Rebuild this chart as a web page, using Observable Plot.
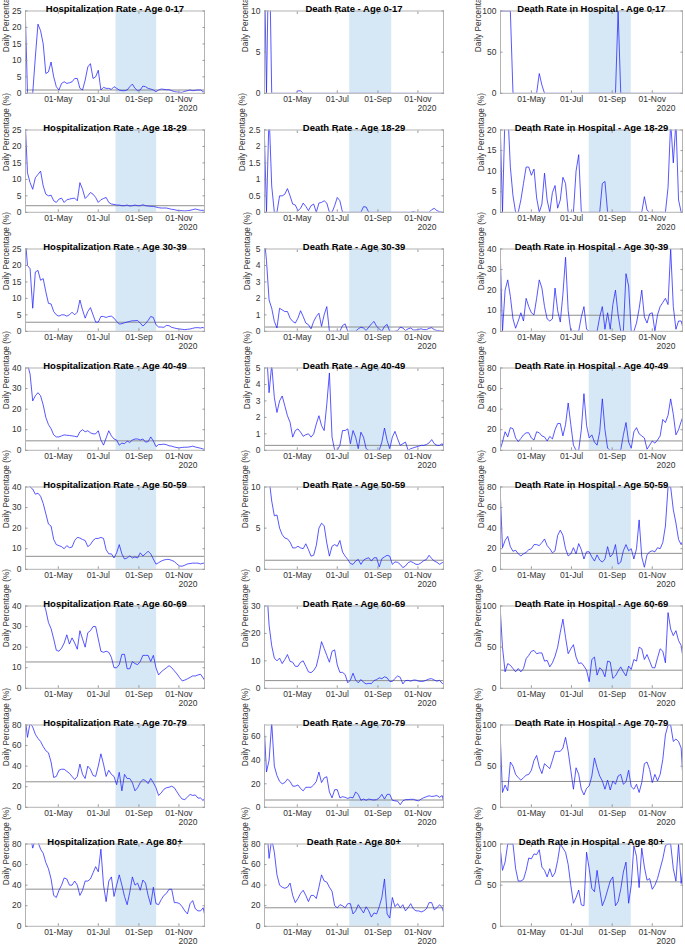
<!DOCTYPE html>
<html><head><meta charset="utf-8">
<script src="https://cdn.jsdelivr.net/npm/d3@7"></script>
<script src="https://cdn.jsdelivr.net/npm/@observablehq/plot@0.6"></script>
<style>
body{margin:0;background:#fff;}
#root{position:relative;width:685px;height:947px;overflow:hidden;font-family:"Liberation Sans",Arial,sans-serif;}
#root svg{position:absolute;overflow:visible;}
</style></head><body><div id="root"></div>
<script>
// ---- categories / labels ----
const ageGroups = ["0-17","18-29","30-39","40-49","50-59","60-69","70-79","80+"];
const measures = ["Hospitalization Rate","Death Rate","Death Rate in Hospital"];
const yLabel = "Daily Percentage (%)";
const yearLabel = "2020";
const xTickDates = ["2020-05-01","2020-07-01","2020-09-01","2020-11-01"];
const shadeDates = [["2020-07-28","2020-09-28"],["2020-07-20","2020-09-22"],["2020-07-28","2020-09-30"]];
const stepDays = 4;                       // sampling step of the series below
const seriesStart = ["2020-03-11","2020-03-11","2020-03-10"];   // first sample per column
const xDomains = [["2020-03-12","2020-12-10"],["2020-03-12","2020-12-10"],["2020-03-15","2020-12-17"]];

// ---- Hospitalization Rate (column 1) ----
const hosp_0_17 = [30,0,0,0,11,21,19,15,6,6.5, 9.5,5,2,1,3,3.5,3,3.2,3.5,4.5, 4.5,1.5,1,4,8,9,4.5,5,7,1, 1.8,1.5,1.5,1.2,2,1.5,1,0.8,0.8,1, 2,2.8,1.5,0.8,1,2.2,2,1.5,1.3,1, 0.5,1,1.3,1.2,1.1,1.1,0.8,0.5,0.4,0.3, 0.3,0.6,0.8,1,0.8,0.9,1,1,0.5,0.2];
const hosp_18_29 = [30,12,9,7,10.5,11.5,12.5,8,5.5,5, 5.2,3.5,3,4,4.3,3,3.8,4,4.2,4.3, 3.5,9,7,4.2,5,6,5.5,4.5,3,3.8, 4.2,4.5,3,2.5,2.4,2.2,2.2,2,2,2.2, 1.9,2,2.2,2,2,2.3,2,1.9,1.8,1.8, 1.6,1.4,1.3,1.3,1.3,1.1,0.9,0.8,0.6,0.5, 0.5,0.4,0.5,0.6,0.8,1.0,0.8,0.6,0.6,0.5];
const hosp_30_39 = [30,20,19,7,18,18.5,15.5,16,12,8.5, 8.3,6,5,4.6,5,5,4.6,5,5.8,5, 5.8,9.5,6.5,4,6,7.2,5,2.8,2.8,4.5, 4.5,4.2,4.5,4.6,4,3,2.2,2.3,2.6,2.8, 3,3.2,3.2,3.3,2.5,1.6,2.3,3.3,4.5,4.2, 2,1.3,1.3,1.2,1.8,1.7,1.2,1,0.8,0.7, 0.6,0.5,0.6,0.7,0.9,1.1,1.1,1,1.2,0.3];
const hosp_40_49 = [45,42,37,24,26.5,28,26.5,22,16,12.5, 10.5,7.5,6.5,6.5,7,7.5,7.3,7.2,7,6.8, 6.5,9,10,9,9.5,8.5,8,8,9.5,5, 2.5,6,9.5,7,5.5,5,2.5,3.5,3.2,4.5, 3.8,5,5.5,5.5,5,5.5,4,4.2,6.5,4.5, 1.8,2.8,2.8,3,2.7,2.2,2,1.6,1.3,1.2, 1.4,1.5,1.5,1.7,2,1.6,1.3,1,0.6,0.3];
const hosp_50_59 = [45,42,40,39,36.5,37,35.5,32,27,22, 21,14.5,12,11.5,11,10,11.5,10.5,10.8,14, 15.5,15.2,14.5,14,11,12,14,15,15,15.5, 15,9.5,7.5,7.5,5.5,8,12,7.5,5,5.5, 6.5,5.5,6,5.5,8,6.5,7.5,8.8,7.5,5, 2.5,3.2,4,4.5,4.8,4.8,4.3,3.8,2.5,1.6, 1.5,2,2.6,2.8,3,3,3,2.6,3,2.5];
const hosp_60_69 = [60,55,55,50,50,48,45,42,38,32, 29,24,18.5,18,19.5,22,26,21.5,24.5,22, 19,28,24,20,27,28,30,30,24,18, 17.5,18,17.5,15,10,10,11.5,16.5,16.5,9.5, 9.5,13,12,11.5,13,16,16,16,13,16, 10,6.5,8,9,10,11,10,8.5,7,5.2, 3.6,4,4.6,5.3,6,6,6.5,6.8,5,3];
const hosp_70_79 = [90,68,82,78,71,67,64,59,55,53, 44,29,30,36,37,37,35,33,30,27, 30,42,32,28,40,37,31,30,40,52, 42,30,36,32,30,22,34,16,32,28, 28,24,16,19,24,27,26,23,28,24, 19,11.5,14,17.5,19,19.5,20.5,19,15,11, 8,7.5,10,12.5,11.5,12,9,9,6.5,11];
const hosp_80p = [95,95,90,76,85,82,75,71,62,56, 46,30,28,35,40,47,46,40,40,44, 40,30,35,44,44,46,52,58,53,75, 40,24,44,48,29,40,50,40,29,21, 33,48,40,42,35,45,42,30,21,38, 22,21,26,30,32,36,36,23,23,22, 19,15,12,22,25,17,15,15,18,6];

// ---- Death Rate (column 2) ----
const death_0_17 = [20,0,20,0,0,0,0,0,0,0, 0,0,0,0.3,0.3,0,0,0,0,0, 0,0,0,0,0,0,0,0,0,0, 0,0,0,0,0,0,0,0,0,0, 0,0,0,0,0,0,0,0,0,0, 0,0,0,0,0,0,0,0,0,0, 0,0,0,0,0,0,0,0,0,0];
const death_18_29 = [3,0,3,0.8,0,0,0.5,0.5,0.55,0.72, 0.5,0.25,0.22,0.05,0.12,0.28,0.18,0.05,0.2,0.25, 0,0.28,0.3,0.35,0.28,0,0,0.2,0.45,0.35, 0,0,0,0,0,0,0,0,0.17,0.16, 0,0,0,0,0,0,0,0,0,0, 0,0,0,0,0,0,0,0.02,0,0, 0,0,0,0,0.08,0.12,0.05,0.02,0,0];
const death_30_39 = [6,4.3,1.9,1.4,0.6,0.2,1.4,1.3,1.2,1.2, 0.8,0.6,0.5,0.8,1.25,0.9,0.5,0.4,0.15,0.6, 0.9,1.1,0.3,1.0,1.5,0,0,0,0,0, 0.35,0.45,0,0,0,0,0.15,0.25,0.2,0.05, 0.25,0.45,0.6,0.3,0.15,0,0.3,0.42,0,0, 0,0.05,0.25,0.2,0.05,0.15,0.2,0.08,0.08,0.12, 0.15,0.1,0.1,0.18,0.22,0.1,0.05,0.05,0,0];
const death_40_49 = [6,6,3.5,5.2,3.2,2.3,3,3.3,2.7,2.1, 1.7,0.8,1.2,1.3,1.1,0.85,0.95,1.0,0.8,1.0, 1.6,2.1,1.5,1.2,2.8,4.7,0.8,0,0,0.3, 1.2,1.2,1.3,0.4,1.2,0.8,0.1,1.1,0.8,0.1, 0,0,0,0,0,0.5,1.35,0.6,0.1,0.8, 1.15,0.7,0.3,0.4,0.5,0,0.1,0.15,0.2,0.25, 0.3,0.3,0.35,0.45,0.65,0.4,0.3,0.3,0.4,0.05];
const death_50_59 = [14,12,11,8.3,6.5,6.6,5,4.2,3.8,3.7, 3.3,2.6,2.6,2.8,2.6,2.5,3.1,2.4,1.6,1.7, 2.9,5,5.6,5.3,3.2,1.6,2.8,3,2.8,3.5, 2.1,1.6,1.2,0.7,0.6,1,1.2,0.6,1.1,1.3, 1.4,1,1.4,1.4,0.3,1.3,1.5,1.7,1.6,0.6, 0.9,0.85,0.6,0.2,0.4,0.8,0.95,0.8,0.6,0.6, 0.8,1.05,1.2,1.7,1.3,1.0,0.85,0.6,0.8,0.9];
const death_60_69 = [45,38,23,15.5,11,10,11,9,10.5,12.3, 9.8,9.5,8,8,9.5,10,8,6,5.7,6.5, 8,12,17,14.5,12,9.5,13.5,14,8.5,5.8, 5.8,5,2,3,5.5,3,2,3.2,2.2,1.6, 1.8,1.7,2.8,3.2,3.8,3.5,4.2,3.8,2.5,2.5, 3.6,4.5,4,1.6,2.8,2.9,2.6,3,3,2.6, 2.5,2.6,3,3.4,3.5,3,2.6,2.9,1.8,1.5];
const death_70_79 = [75,30,40,72,35,27,22,20,21,24, 22,18,18,19,16,14,17,17,17,19, 22,30,21,25,26,13,8,15,15,8, 9,8.5,7.5,8.5,8,13,11,6,7,6, 7,6.5,6.2,6.5,8,11,7,11,11,6, 5.5,5.2,2.2,5.5,6.5,6.5,6.8,6.8,6,5.5, 7,8.2,9,9.8,9.2,9.5,10,8.5,10,1];
const death_80p = [110,100,66,85,72,50,40,38,37,38, 42,30,23,27,32,35,30,24,30,30, 27,38,50,44,43,38,34,20,18,21, 20,18,22,22,12,15,21,17,13,19, 15,9,13,12,19,28,46,12,8,28, 19,22,18,21,15,18,22,17,15,15, 14,15,17,23,23,16,18,21,18,10];

// ---- Death Rate in Hospital (column 3) ----
const hospDeath_0_17 = [100,100,100,100,100,100,0,0,0,0, 0,0,0,0,0,0,24,10,0,0, 0,0,0,0,0,0,0,0,0,0, 0,0,0,0,0,0,0,0,0,0, 0,0,0,0,0,0,100,0,0,0, 0,0,0,0,0,0,0,0,0,0, 0,0,0,0,0,0,0,0,0,0, 0,0];
const hospDeath_18_29 = [25,25,0,25,25,11,4,0,0,3, 7,11,11,9,10.5,3.5,0,2,9.5,3, 0,4.8,6.5,1,3,8.5,7,0,0,0, 10,14,0,0,0,0,0,0,0,0, 7,7.5,0,0,0,0,0,0,0,0, 0,0,0,0,0,0,3.8,0.5,0,0, 0,0,0,0,0,6,22,12,22,3, 0,0];
const hospDeath_30_39 = [45,45,0,20,25,17,6,1.5,5,9, 5,16,12,9,8,16,25,21,12,6, 5,6,21,10,4.5,18,36,10,0,0, 0,0,7,12,1,0,0,0,0,7, 12,1,9,1,13,20,8,0,0,28, 22,0,0,4,11,20,7,4,8.5,9, 0,8,12,14,16,13,40,12,1,5, 5,0];
const hospDeath_40_49 = [0,0,8,18,13,22,21,12,8.5,11.5, 15,17,17,12,10,18,17,14,13,9, 13.5,11,20,26,26,14,25,46,25,5, 0,0,20,55,24,12,15,8,5,18, 50,20,2,0,0,0,0,0,15,27, 8,2,18,22,16,14,12,1,5,9, 7,10,14,30,27,34,50,35,15,20, 28,35];
const hospDeath_50_59 = [90,85,21,28,32,22,17.5,18.5,15,13, 15,16.5,19,20,24,24,23,26,29.5,23, 20,16,18,33,38,33,20,13,15,21, 15,25,19,10,17,17,12,8,14,9, 7,10,22,12,15,24,5,7,18,24, 18,20,10,20,48,12,2,14,17,18, 17,21,20,26,42,80,80,58,45,29, 24,30];
const hospDeath_60_69 = [105,105,50,20,30,28,24,20,24,20, 24,36,40,45,46,42,43,43,33,34, 26,31,39,50,68,84,62,42,48,53, 38,30,31,27,22,8,35,38,16,25, 22,14,33,32,12,15,21,26,20,15, 27,23,35,33,50,48,35,41,33,25, 25,37,48,45,31,92,72,64,70,58, 52,30];
const hospDeath_70_79 = [100,100,18,27,20,55,50,40,36,33, 36,39,40,45,57,63,49,41,53,50, 47,57,68,68,68,72,85,68,45,22, 48,40,22,15,23,26,38,60,48,38, 32,22,33,21,32,28,38,40,28,31, 45,25,22,28,18,30,53,55,46,30, 40,32,40,58,88,100,100,80,83,80, 72,15];
const hospDeath_80p = [100,100,68,78,100,100,100,70,55,55, 57,68,83,82,88,87,93,72,68,60, 70,60,65,80,100,95,90,75,50,28, 35,44,26,25,90,70,46,42,68,45, 25,33,44,55,60,25,30,45,66,78, 28,50,98,85,47,95,72,56,58,45, 50,58,70,82,98,100,100,70,55,100, 52,80];

// ---- reference (mean) lines per age group ----
const hospMean = [1.0, 2.0, 2.75, 4.6, 6.3, 12.8, 24.8, 36.1];
const deathMean = [null, null, 0.26, 0.3, 1.1, 2.8, 6.2, 18];
const hospDeathMean = [null, null, 7.8, 9.1, 15.5, 22, 31.4, 54];

// ---- y axis extents and ticks: [hosp, death, hospDeath] per age group ----
const yMax = [[25,10,100],[25,2.5,20],[25,5,40],[40,5,80],[40,10,80],[40,30,100],[80,70,100],[80,80,100]];
const yTicks = [
  [[0,5,10,15,20,25],[0,5,10],[0,50,100]],
  [[0,5,10,15,20,25],[0,0.5,1,1.5,2,2.5],[0,5,10,15,20]],
  [[0,5,10,15,20,25],[0,1,2,3,4,5],[0,10,20,30,40]],
  [[0,10,20,30,40],[0,1,2,3,4,5],[0,20,40,60,80]],
  [[0,10,20,30,40],[0,5,10],[0,20,40,60,80]],
  [[0,10,20,30,40],[0,10,20,30],[0,50,100]],
  [[0,20,40,60,80],[0,20,40,60],[0,50,100]],
  [[0,20,40,60,80],[0,20,40,60,80],[0,50,100]]
];

const series = [
  [hosp_0_17,hosp_18_29,hosp_30_39,hosp_40_49,hosp_50_59,hosp_60_69,hosp_70_79,hosp_80p],
  [death_0_17,death_18_29,death_30_39,death_40_49,death_50_59,death_60_69,death_70_79,death_80p],
  [hospDeath_0_17,hospDeath_18_29,hospDeath_30_39,hospDeath_40_49,hospDeath_50_59,hospDeath_60_69,hospDeath_70_79,hospDeath_80p]
];
const means = [hospMean, deathMean, hospDeathMean];

// ---- layout ----
const colL = [25, 264.3, 500], colR = [204, 443.3, 682];
const rowTop0 = 10.5, rowStep = 119, axH = 82.3;
const ml = 32, mr = 4, mt = 10.5, mb = 24;
const FONT = '"Liberation Sans", Arial, Helvetica, sans-serif';
const DAY = 864e5;
const parse = s => new Date(s + "T00:00:00Z");
const fmt = d3.utcFormat("%d-%b");
const xTicks = xTickDates.map(parse);
const root = document.getElementById("root");

for (let r = 0; r < 8; r++) {
  for (let c = 0; c < 3; c++) {
    const vals = series[c][r];
    const t0 = parse(seriesStart[c]).getTime();
    const data = vals.map((v, i) => ({date: new Date(t0 + i * stepDays * DAY), v}));
    const yt = yTicks[r][c];
    const m = means[c][r];
    const w = colR[c] - colL[c] + ml + mr;
    const h = axH + mt + mb;
    const maxChars = Math.max(...yt.map(t => String(t).length));
    const labOff = 14.5 + maxChars * 2.4;
    const marks = [
      Plot.rect([shadeDates[c].map(parse)], {x1: d => d[0], x2: d => d[1], fill: "#d6e8f6"}),
    ];
    if (m != null) marks.push(Plot.ruleY([m], {stroke: "#8f8f8f", strokeWidth: 1}));
    marks.push(
      Plot.lineY(data, {x: "date", y: "v", stroke: "#1f1fff", strokeWidth: 0.75, clip: true}),
      Plot.frame({stroke: "#b3b3b3", strokeWidth: 1}),
      Plot.axisX({ticks: xTicks, tickFormat: fmt, tickSize: 0, tickPadding: 2.5, fontSize: 8.5, fill: "#333"}),
      Plot.axisX({anchor: "bottom", ticks: xTicks, tickSize: 2.5, dy: -2.5, tickFormat: () => "", stroke: "#999"}),
      Plot.axisX({anchor: "top", ticks: xTicks, tickSize: 2.5, dy: 2.5, tickFormat: () => "", stroke: "#999"}),
      Plot.axisY({ticks: yt, tickFormat: d => String(d), tickSize: 0, tickPadding: 4, fontSize: 8.5, fill: "#333"}),
      Plot.axisY({anchor: "left", ticks: yt, tickSize: 2.5, dx: 2.5, tickFormat: () => "", stroke: "#999"}),
      Plot.axisY({anchor: "right", ticks: yt, tickSize: 2.5, dx: -2.5, tickFormat: () => "", stroke: "#999"}),
      Plot.text([measures[c] + " - Age " + ageGroups[r]], {text: d => d, frameAnchor: "top", dy: -6, fontWeight: "bold", fontSize: 9.5, fill: "#000"}),
      Plot.text([yLabel], {text: d => d, frameAnchor: "left", rotate: -90, dx: -labOff, fontSize: 8.3, fill: "#333"}),
      Plot.text([yearLabel], {text: d => d, frameAnchor: "bottom-right", dx: -7, dy: 17.5, textAnchor: "end", fontSize: 8.5, fill: "#333"})
    );
    const svg = Plot.plot({
      width: w, height: h,
      marginLeft: ml, marginRight: mr, marginTop: mt, marginBottom: mb,
      x: {type: "utc", domain: xDomains[c].map(parse), label: null},
      y: {domain: [0, yMax[r][c]], label: null},
      style: {fontFamily: FONT, fontSize: "8.5px", background: "transparent", overflow: "visible"},
      marks
    });
    svg.style.left = (colL[c] - ml) + "px";
    svg.style.top = (rowTop0 + r * rowStep - mt) + "px";
    root.appendChild(svg);
  }
}
</script>
</body></html>
